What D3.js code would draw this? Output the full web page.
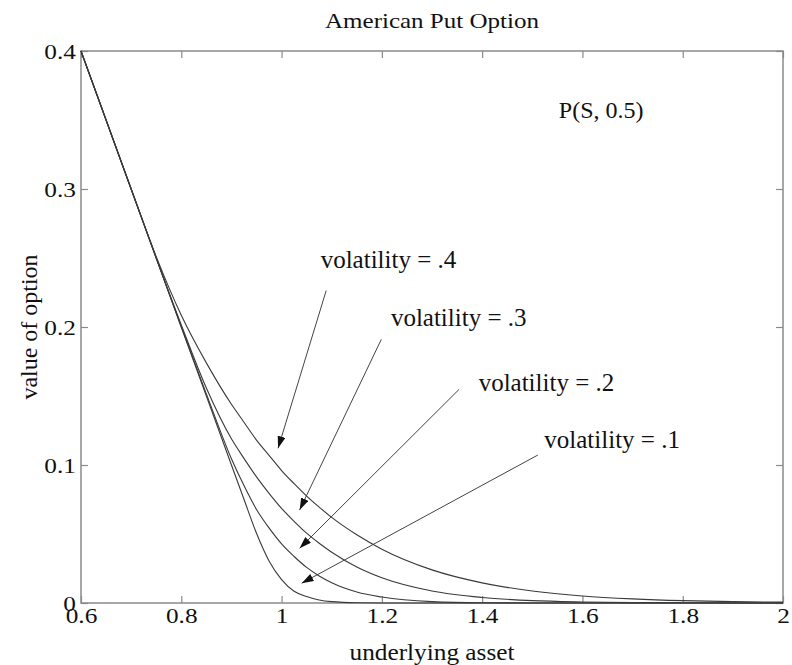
<!DOCTYPE html>
<html>
<head>
<meta charset="utf-8">
<script src="https://cdn.jsdelivr.net/npm/d3@7"></script>
<style>
  html, body { margin: 0; padding: 0; background: #fff; }
  svg { display: block; }
  text { font-family: "Liberation Serif", "Times New Roman", serif; fill: #111; }
</style>
</head>
<body>
<svg id="chart" width="792" height="665"></svg>
<script>
// ---- data ----
const assetPrices = [0.6, 0.65, 0.7, 0.75, 0.8, 0.85, 0.9, 0.925, 0.95, 0.975, 1.0, 1.025, 1.05, 1.075, 1.1, 1.15, 1.2, 1.3, 1.4, 1.5, 1.6, 1.7, 1.8, 1.9, 2.0];
const vol04 = [0.4, 0.35, 0.3, 0.251, 0.2085, 0.174, 0.144, 0.131, 0.118, 0.107, 0.096, 0.0865, 0.0775, 0.0695, 0.062, 0.0494, 0.039, 0.024, 0.0146, 0.0087, 0.0051, 0.003, 0.0017, 0.001, 0.0006];
const vol03 = [0.4, 0.35, 0.3, 0.25, 0.2015, 0.1558, 0.119, 0.1048, 0.0914, 0.0795, 0.0686, 0.0592, 0.0506, 0.0433, 0.0368, 0.0261, 0.0183, 0.0087, 0.004, 0.0017, 0.00075, 0.0003, 0.00013, 0.00005, 0.00002];
const vol02 = [0.4, 0.35, 0.3, 0.25, 0.2, 0.1515, 0.1045, 0.0851, 0.0678, 0.0544, 0.0428, 0.0337, 0.0258, 0.0196, 0.0147, 0.008, 0.0043, 0.001, 0.0002, 0.00005, 0, 0, 0, 0, 0];
const vol01 = [0.4, 0.35, 0.3, 0.25, 0.2, 0.15, 0.1, 0.0752, 0.0505, 0.0305, 0.017, 0.0085, 0.0047, 0.0022, 0.001, 0.0002, 0.00003, 0, 0, 0, 0, 0, 0, 0, 0];
const seriesNames = ["volatility = .4", "volatility = .3", "volatility = .2", "volatility = .1"];
const seriesValues = [vol04, vol03, vol02, vol01];
// annotation arrows: label anchor / arrow start / arrow tip, in data units
const labelS = [1.078, 1.218, 1.393, 1.524];
const labelV = [0.2425, 0.2010, 0.1537, 0.1123];
const arrowFromS = [1.089, 1.199, 1.354, 1.511];
const arrowFromV = [0.2264, 0.1911, 0.1548, 0.1072];
const arrowToS = [0.993, 1.036, 1.036, 1.040];
const arrowToV = [0.1121, 0.0674, 0.0396, 0.0143];
const xTicks = [0.6, 0.8, 1.0, 1.2, 1.4, 1.6, 1.8, 2.0];
const xTickLabels = ["0.6", "0.8", "1", "1.2", "1.4", "1.6", "1.8", "2"];
const yTicks = [0, 0.1, 0.2, 0.3, 0.4];
const yTickLabels = ["0", "0.1", "0.2", "0.3", "0.4"];
const titleText = "American Put Option";
const xLabel = "underlying asset";
const yLabel = "value of option";
const noteText = "P(S, 0.5)";
const noteS = 1.553, noteV = 0.3514;

// ---- layout ----
const svg = d3.select("#chart");
const L = 81, R = 783, T = 51, B = 603;
const x = d3.scaleLinear().domain([0.6, 2]).range([L, R]);
const y = d3.scaleLinear().domain([0, 0.4]).range([B, T]);
const frameColor = "#8a8a8a";
const tickLen = 7;
const serif = '"Liberation Serif", "Times New Roman", serif';

// horizontal stretch helper (the reference type is slightly wide)
function stretch(sel, factor) {
  sel.each(function () {
    const w = this.getComputedTextLength();
    d3.select(this).attr("textLength", w * factor).attr("lengthAdjust", "spacingAndGlyphs");
  });
}

// frame
svg.append("rect").attr("x", L).attr("y", T).attr("width", R - L).attr("height", B - T)
  .attr("fill", "none").attr("stroke", frameColor).attr("stroke-width", 1.5);

function styleAxis(g, showLabels) {
  g.attr("font-family", serif);
  g.select(".domain").remove();
  g.selectAll(".tick line").attr("stroke", frameColor).attr("stroke-width", 1.2);
  g.selectAll(".tick text")
    .style("font-family", serif)
    .style("font-size", "22px").attr("fill", "#111");
  if (!showLabels) g.selectAll(".tick text").remove();
  else stretch(g.selectAll(".tick text"), 1.15);
}

const xMap = new Map(xTicks.map((t, i) => [t, xTickLabels[i]]));
const yMap = new Map(yTicks.map((t, i) => [t, yTickLabels[i]]));

svg.append("g").attr("transform", `translate(0,${B})`)
  .call(d3.axisBottom(x).tickValues(xTicks).tickSize(-tickLen).tickPadding(4).tickFormat(d => xMap.get(d)))
  .call(g => styleAxis(g, true))
  .call(g => g.selectAll(".tick text").attr("dy", "0.71em"));
svg.append("g").attr("transform", `translate(0,${T})`)
  .call(d3.axisTop(x).tickValues(xTicks).tickSize(-tickLen))
  .call(g => styleAxis(g, false));
svg.append("g").attr("transform", `translate(${L},0)`)
  .call(d3.axisLeft(y).tickValues(yTicks).tickSize(-tickLen).tickPadding(5).tickFormat(d => yMap.get(d)))
  .call(g => styleAxis(g, true))
  .call(g => g.selectAll(".tick text").attr("dy", "0.36em"));
svg.append("g").attr("transform", `translate(${R},0)`)
  .call(d3.axisRight(y).tickValues(yTicks).tickSize(-tickLen))
  .call(g => styleAxis(g, false));

// curves
const line = d3.line().x(d => x(d[0])).y(d => y(d[1])).curve(d3.curveMonotoneX);
seriesValues.forEach(vals => {
  svg.append("path")
    .datum(assetPrices.map((s, i) => [s, vals[i]]))
    .attr("fill", "none").attr("stroke", "#3a3a3a").attr("stroke-width", 1.1)
    .attr("d", line);
});

// arrows
const defs = svg.append("defs");
defs.append("marker").attr("id", "ah").attr("viewBox", "0 0 12 8")
  .attr("refX", 12).attr("refY", 4).attr("markerWidth", 12).attr("markerHeight", 8)
  .attr("markerUnits", "userSpaceOnUse").attr("orient", "auto")
  .append("path").attr("d", "M0,0 L12,4 L0,8 Z").attr("fill", "#111");

seriesNames.forEach((name, i) => {
  svg.append("line")
    .attr("x1", x(arrowFromS[i])).attr("y1", y(arrowFromV[i]))
    .attr("x2", x(arrowToS[i])).attr("y2", y(arrowToV[i]))
    .attr("stroke", "#444").attr("stroke-width", 1)
    .attr("marker-end", "url(#ah)");
  svg.append("text")
    .attr("x", x(labelS[i])).attr("y", y(labelV[i]))
    .style("font-size", "25px")
    .text(name);
});

// texts
svg.append("text").attr("x", x(noteS)).attr("y", y(noteV)).style("font-size", "24px").text(noteText);
svg.append("text").attr("x", (L + R) / 2).attr("y", 28).attr("text-anchor", "middle")
  .style("font-size", "22px").text(titleText)
  .attr("textLength", 214).attr("lengthAdjust", "spacingAndGlyphs");
svg.append("text").attr("x", (L + R) / 2).attr("y", 660).attr("text-anchor", "middle")
  .style("font-size", "23px").text(xLabel)
  .attr("textLength", 165).attr("lengthAdjust", "spacingAndGlyphs");
svg.append("text").attr("transform", `translate(37,${(T + B) / 2}) rotate(-90)`)
  .attr("text-anchor", "middle").style("font-size", "23px").text(yLabel)
  .attr("textLength", 145).attr("lengthAdjust", "spacingAndGlyphs");
</script>
</body>
</html>
